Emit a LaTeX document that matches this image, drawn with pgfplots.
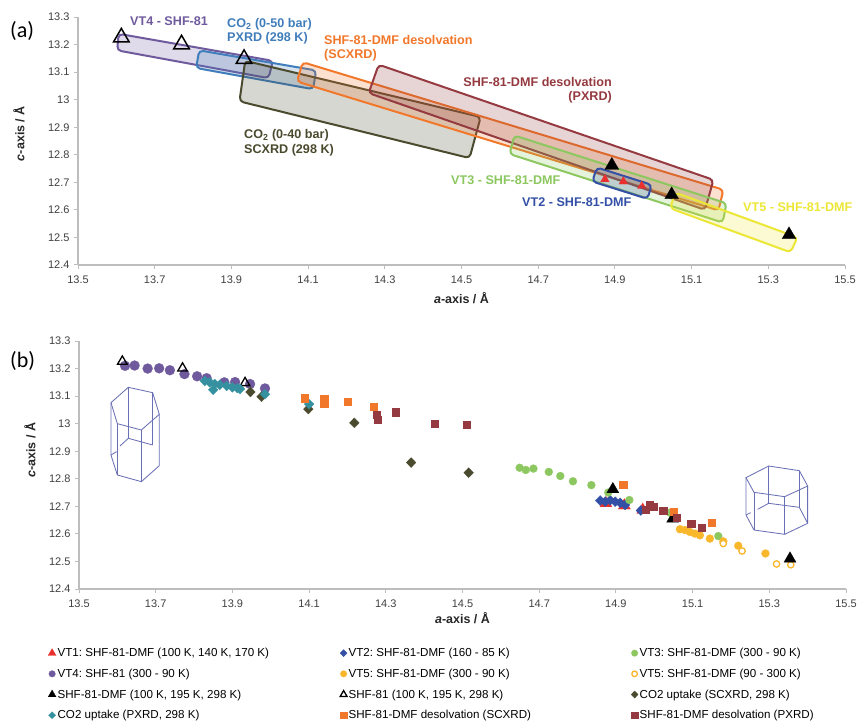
\documentclass[border=0pt]{standalone}
\usepackage{fontspec}
\setmainfont{Liberation Sans}
\newfontfamily\calib{Carlito}
\usepackage{pgfplots}
\usepackage{pgfplotstable}
\pgfplotsset{compat=1.18}
\usetikzlibrary{plotmarks}
\frenchspacing

\definecolor{cRed}{HTML}{E8312F}
\definecolor{cBlue}{HTML}{3350A6}
\definecolor{cGreen}{HTML}{8CC75F}
\definecolor{cPurple}{HTML}{6F5A9E}
\definecolor{cYellow}{HTML}{F9B72B}
\definecolor{cLemon}{HTML}{ECE636}
\definecolor{cOlive}{HTML}{4A4A2E}
\definecolor{cTeal}{HTML}{35919F}
\definecolor{cOrange}{HTML}{F1772A}
\definecolor{cBrown}{HTML}{943A40}
\definecolor{cSky}{HTML}{3F7DBB}
\definecolor{cAxis}{HTML}{BDBDBD}
\definecolor{cTick}{HTML}{404040}
\definecolor{cHex}{HTML}{6A70B4}

% triangles, used in both panels
\pgfplotstableread{
a c
14.874 12.711
14.922 12.703
14.970 12.687
}\tblVTone
\pgfplotstableread{
a c
14.892 12.762
15.048 12.655
15.354 12.510
}\tblBlack
\pgfplotstableread{
a c
13.613 13.226
13.770 13.201
13.933 13.148
}\tblOpen

\pgfplotsset{
  panel/.style={
    scale only axis, width=767pt, height=248pt,
    xmin=13.5, xmax=15.5, ymin=12.4, ymax=13.3,
    xtick={13.5,13.7,13.9,14.1,14.3,14.5,14.7,14.9,15.1,15.3,15.5},
    ytick={12.4,12.5,12.6,12.7,12.8,12.9,13,13.1,13.2,13.3},
    axis lines=left,
    axis line style={-,cAxis,line width=1.3pt},
    tick style={cAxis,line width=1pt},
    tick align=outside,
    major tick length=4pt,
    ticklabel style={font=\fontsize{11}{12}\selectfont,text=cTick},
    xticklabel style={yshift=-3pt},
    yticklabel style={xshift=-1pt},
    /pgf/number format/assume math mode=true,
    /pgf/number format/fixed,
    /pgf/number format/precision=1,
    xlabel={\textbf{\textit{a}-axis / Å}},
    ylabel={\textbf{\textit{c}-axis / Å}},
    label style={font=\fontsize{12.5}{14}\selectfont,text=black!85},
  },
  box/.style={line width=2pt,rounded corners=4pt,draw=#1,fill=#1,fill opacity=0.22,draw opacity=1},
  ser/.style n args={3}{only marks,mark=#1,color=#3,mark size=#2,mark options={solid,fill=#3,draw=#3,line width=0.2pt},
    legend image post style={mark size=3.3pt}},
  dia/.style 2 args={only marks,mark=diamond*,color=#2,mark size=#1,mark options={solid,fill=#2,draw=#2,line width=0.2pt,xscale=1.3},
    legend image post style={mark size=3.6pt}},
}

\begin{document}
\begin{tikzpicture}[x=1pt,y=1pt]
\path[use as bounding box] (0,0) rectangle (859,721);

% ---- panel (a) ----
\begin{axis}[panel, at={(78pt,456pt)}, anchor=south west,
  xlabel style={at={(axis description cs:0.5,-0.133)},anchor=center},
  ylabel style={at={(axis description cs:-0.077,0.53)},anchor=center},
]
  \addplot[ser={triangle}{9}{black},mark options={solid,fill=none,draw=black,line width=1.5pt}] table[x=a,y=c] {\tblOpen};
  \addplot[ser={triangle*}{8}{black}] table[x=a,y=c] {\tblBlack};
  \addplot[ser={triangle*}{5}{cRed}] table[x=a,y=c] {\tblVTone};

  \addplot[box=cPurple] coordinates {(13.606,13.239) (13.602,13.179) (13.997,13.078) (14.008,13.141)} -- cycle;
  \addplot[box=cSky] coordinates {(13.816,13.179) (13.808,13.115) (14.113,13.038) (14.121,13.106)} -- cycle;
  \addplot[box=cOlive] coordinates {(13.936,13.141) (13.921,12.994) (14.521,12.788) (14.550,12.937)} -- cycle;
  \addplot[box=cOrange] coordinates {(14.086,13.136) (14.071,13.066) (15.170,12.598) (15.183,12.673)} -- cycle;
  \addplot[box=cBrown] coordinates {(14.284,13.127) (14.258,13.024) (15.135,12.600) (15.157,12.709)} -- cycle;
  \addplot[box=cGreen] coordinates {(14.638,12.870) (14.625,12.803) (15.181,12.554) (15.191,12.624)} -- cycle;
  \addplot[box=cBlue] coordinates {(14.853,12.754) (14.841,12.703) (14.985,12.640) (14.996,12.691)} -- cycle;
  \addplot[box=cLemon] coordinates {(15.057,12.663) (15.044,12.606) (15.358,12.446) (15.376,12.500)} -- cycle;
\end{axis}

% ---- panel (b) ----
\begin{axis}[panel, at={(79pt,132pt)}, anchor=south west,
  xlabel style={at={(axis description cs:0.5,-0.117)},anchor=center},
  ylabel style={at={(axis description cs:-0.064,0.56)},anchor=center},
  legend columns=3,
  legend cell align=left,
  legend style={at={(axis description cs:-0.0405,-0.233)},anchor=north west,draw=none,fill=none,
    font=\fontsize{11.6}{13}\selectfont,row sep=8.4pt,inner sep=0pt,
    nodes={inner ysep=1.2pt,inner xsep=1.5pt}},
  legend image code/.code={\draw[#1] plot coordinates {(0pt,0pt)};},
]
  \addplot[ser={triangle*}{7}{cRed},legend image post style={mark size=4.6pt}] table[x=a,y=c] {\tblVTone};
  \addlegendentry{\makebox[281pt][l]{VT1: SHF-81-DMF (100 K, 140 K, 170 K)}}

  \addplot[dia={5}{cBlue}] coordinates {(14.859,12.721) (14.872,12.717) (14.885,12.722) (14.898,12.717) (14.911,12.713) (14.924,12.705) (14.965,12.685)};
  \addlegendentry{\makebox[281pt][l]{VT2: SHF-81-DMF (160 - 85 K)}}

  \addplot[ser={*}{4}{cGreen}] coordinates {(14.649,12.840) (14.665,12.832) (14.685,12.837) (14.725,12.825) (14.755,12.810) (14.788,12.791) (14.836,12.777) (14.880,12.750) (14.935,12.723) (15.041,12.677) (15.167,12.592)};
  \addlegendentry{VT3: SHF-81-DMF (300 - 90 K)}

  \addplot[ser={*}{5}{cPurple}] coordinates {(13.620,13.210) (13.645,13.211) (13.679,13.200) (13.709,13.201) (13.737,13.194) (13.775,13.180) (13.808,13.172) (13.833,13.165) (13.879,13.150) (13.907,13.151) (13.946,13.144) (13.985,13.128)};
  \addlegendentry{VT4: SHF-81 (300 - 90 K)}

  \addplot[ser={*}{4}{cYellow}] coordinates {(15.067,12.617) (15.080,12.614) (15.093,12.607) (15.106,12.601) (15.119,12.595) (15.145,12.583) (15.180,12.573) (15.219,12.557) (15.290,12.529)};
  \addlegendentry{VT5: SHF-81-DMF (300 - 90 K)}

  \addplot[only marks,mark=*,color=cYellow,mark size=3.2pt,mark options={solid,fill=white,draw=cYellow,line width=1.3pt},legend image post style={mark size=2.8pt}] coordinates {(15.180,12.565) (15.229,12.538) (15.319,12.491) (15.356,12.488)};
  \addlegendentry{VT5: SHF-81-DMF (90 - 300 K)}

  \addplot[ser={triangle*}{7}{black},legend image post style={mark size=4.6pt}] table[x=a,y=c] {\tblBlack};
  \addlegendentry{SHF-81-DMF (100 K, 195 K, 298 K)}

  \addplot[ser={triangle}{5.5}{black},mark options={solid,fill=none,draw=black,line width=1.3pt},legend image post style={mark size=4pt}] table[x=a,y=c] {\tblOpen};
  \addlegendentry{SHF-81 (100 K, 195 K, 298 K)}

  \addplot[dia={5}{cOlive}] coordinates {(13.947,13.115) (13.976,13.098) (14.098,13.053) (14.218,13.003) (14.366,12.859) (14.516,12.822)};
  \addlegendentry{CO2 uptake (SCXRD, 298 K)}

  \addplot[dia={5}{cTeal}] coordinates {(13.828,13.155) (13.841,13.150) (13.850,13.123) (13.854,13.144) (13.867,13.141) (13.885,13.137) (13.900,13.132) (13.913,13.129) (13.920,13.126) (13.985,13.107) (14.100,13.071)};
  \addlegendentry{CO2 uptake (PXRD, 298 K)}

  \addplot[ser={square*}{3.6}{cOrange}] coordinates {(14.089,13.093) (14.139,13.090) (14.139,13.075) (14.200,13.080) (14.269,13.061) (14.919,12.780) (15.050,12.680) (15.150,12.640)};
  \addlegendentry{SHF-81-DMF desolvation (SCXRD)}

  \addplot[ser={square*}{3.6}{cBrown}] coordinates {(14.277,13.033) (14.279,13.015) (14.326,13.042) (14.428,12.999) (14.510,12.996) (14.978,12.689) (14.987,12.705) (14.998,12.699) (15.023,12.684) (15.059,12.659) (15.096,12.637) (15.123,12.622)};
  \addlegendentry{SHF-81-DMF desolvation (PXRD)}
\end{axis}

% ---- labels and sketches, in image pixels from the top left ----
\begin{scope}[shift={(0,721)},y=-1pt,x=1pt]
  \node[font=\calib\fontsize{22}{24}\selectfont,anchor=west,inner sep=0] at (10,31) {(a)};
  \node[font=\calib\fontsize{22}{24}\selectfont,anchor=west,inner sep=0] at (10,361) {(b)};

  \tikzset{lab/.style={font=\bfseries\fontsize{12.6}{14}\selectfont,anchor=west,inner sep=0,text=#1}}
  \node[lab=cPurple] at (130,20.7) {VT4 - SHF-81};
  \node[lab=cSky] at (227,24) {CO\textsubscript{2} (0-50 bar)};
  \node[lab=cSky] at (227,38.6) {PXRD (298 K)};
  \node[lab=cOrange] at (324,40) {SHF-81-DMF desolvation};
  \node[lab=cOrange] at (324,55) {(SCXRD)};
  \node[lab=cOlive] at (244,135) {CO\textsubscript{2} (0-40 bar)};
  \node[lab=cOlive] at (244,150) {SCXRD (298 K)};
  \node[lab=cBrown,anchor=east] at (612,82) {SHF-81-DMF desolvation};
  \node[lab=cBrown,anchor=east] at (612,97) {(PXRD)};
  \node[lab=cGreen] at (451,180) {VT3 - SHF-81-DMF};
  \node[lab=cBlue] at (522,202) {VT2 - SHF-81-DMF};
  \node[lab=cLemon] at (743,207) {VT5 - SHF-81-DMF};

  % hexagonal cell, tall
  \begin{scope}[cHex,line width=0.85pt,x=0.3333pt,y=-0.3333pt,shift={(0pt,-320pt)}]
    \draw (333,248)--(385,202)--(458,218)--(478,283)--(424,330)--(352,311)--cycle;
    \draw (333,248)--(333,405)--(352,465)--(424,485)--(478,437)--(478,283);
    \draw (352,311)--(352,465) (424,330)--(424,485);
    \draw (385,202)--(385,355) (458,218)--(458,375);
    \draw (360,378)--(385,355)--(458,375) (333,405)--(350,395);
  \end{scope}
  % hexagonal cell, flat
  \begin{scope}[cHex,line width=0.85pt,x=0.3333pt,y=-0.3333pt,shift={(690pt,-450pt)}]
    \draw (168,83)--(236,48)--(328,62)--(353,108)--(284,140)--(192,127)--cycle;
    \draw (168,83)--(168,195)--(192,240)--(284,253)--(353,220)--(353,108);
    \draw (192,127)--(192,240) (284,140)--(284,253);
    \draw (236,48)--(236,160) (328,62)--(328,172);
    \draw (203,178)--(236,160)--(328,172)--(353,220) (168,195)--(182,188);
  \end{scope}
\end{scope}
\end{tikzpicture}
\end{document}
